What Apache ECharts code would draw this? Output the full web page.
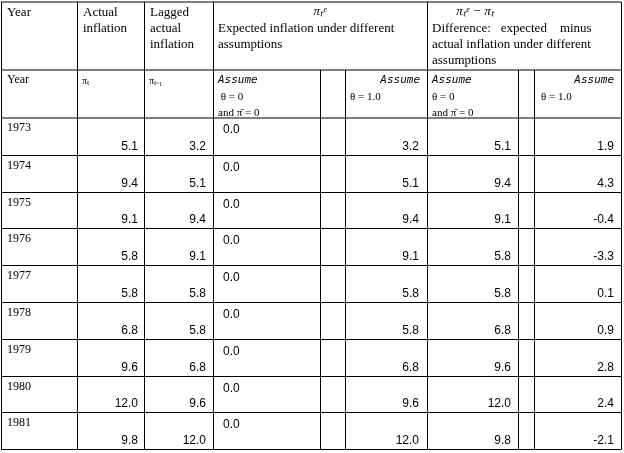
<!DOCTYPE html><html><head><meta charset="utf-8"><script src="https://cdn.jsdelivr.net/npm/echarts@6/dist/echarts.min.js"></script></head><body style="margin:0;background:#fff"><div id="c" style="width:624px;height:453px"></div><script>
const years=['1973','1974','1975','1976','1977','1978','1979','1980','1981'];
const actual=['5.1','9.4','9.1','5.8','5.8','6.8','9.6','12.0','9.8'];
const lagged=['3.2','5.1','9.4','9.1','5.8','5.8','6.8','9.6','12.0'];
const expZero=['0.0','0.0','0.0','0.0','0.0','0.0','0.0','0.0','0.0'];
const expOne=['3.2','5.1','9.4','9.1','5.8','5.8','6.8','9.6','12.0'];
const diffZero=['5.1','9.4','9.1','5.8','5.8','6.8','9.6','12.0','9.8'];
const diffOne=['1.9','4.3','-0.4','-3.3','0.1','0.9','2.8','2.4','-2.1'];
(function(){
const X=[1,77,144,213,320,345,427,518,534,621];
const rowY=[2,70,118];for(let i=1;i<=9;i++)rowY.push(Math.round(118+i*36.8)+0.5);
const g=[];const serif='"Liberation Serif", serif',sans='"Liberation Sans", sans-serif',mono='"DejaVu Sans Mono", monospace';
function line(x1,y1,x2,y2){g.push({type:'line',shape:{x1,y1,x2,y2},style:{stroke:'#000',lineWidth:1}});}
function txt(t,x,y,o={}){const a=o.align||'left';delete o.align;g.push({type:'text',x,y,style:Object.assign({text:t,fill:'#000',font:'13px '+serif,verticalAlign:'middle',textVerticalAlign:'middle',align:a,textAlign:a},o)});}
const y0=rowY[0],yB=rowY[rowY.length-1];
rowY.forEach(y=>line(X[0],y,X[9],y));
[0,1,2,3,6,9].forEach(i=>line(X[i]+0.5,y0,X[i]+0.5,yB));
[4,5,7,8].forEach(i=>line(X[i]+0.5,rowY[1],X[i]+0.5,yB));
txt('Year',7,13);txt('Actual',83,13);txt('inflation',83,29);
txt('Lagged',150,13);txt('actual',150,29);txt('inflation',150,45);
txt('πₜᵉ',320,12,{align:'center',font:'italic 13px '+serif});
txt('Expected inflation under different',218,29);txt('assumptions',218,45);
txt('πₜᵉ − πₜ',475,12,{align:'center',font:'italic 13px '+serif});
txt('Difference:   expected    minus',432,29);txt('actual inflation under different',432,45);txt('assumptions',432,61);
txt('Year',7,80,{font:'12px '+serif});txt('πₜ',82,81,{font:'10px '+serif});txt('πₜ₋₁',149,81,{font:'10px '+serif});
const it='italic 11px '+mono,sm='11px '+serif;
txt('Assume',218,80,{font:it});txt(' θ = 0',218,97,{font:sm});txt('and π̄ = 0',218,113,{font:sm});
txt('Assume',420,80,{font:it,align:'right'});txt('θ = 1.0',350,97,{font:sm});
txt('Assume',432,80,{font:it});txt('θ = 0',432,97,{font:sm});txt('and π̄ = 0',432,113,{font:sm});
txt('Assume',614,80,{font:it,align:'right'});txt('θ = 1.0',541,97,{font:sm});
const nf='12px '+sans;
years.forEach((y,i)=>{const t=rowY[i+2],b=rowY[i+3];
 txt(y,7,t+10,{font:'12px '+serif});
 txt(expZero[i],223,t+12,{font:nf});
 [[actual,138],[lagged,206],[expOne,419],[diffZero,511],[diffOne,614]].forEach(([a,x])=>txt(a[i],x,b-9,{font:nf,align:'right'}));
});
const ch=echarts.init(document.getElementById('c'));
ch.setOption({animation:false,graphic:g});
})();
</script></body></html>
